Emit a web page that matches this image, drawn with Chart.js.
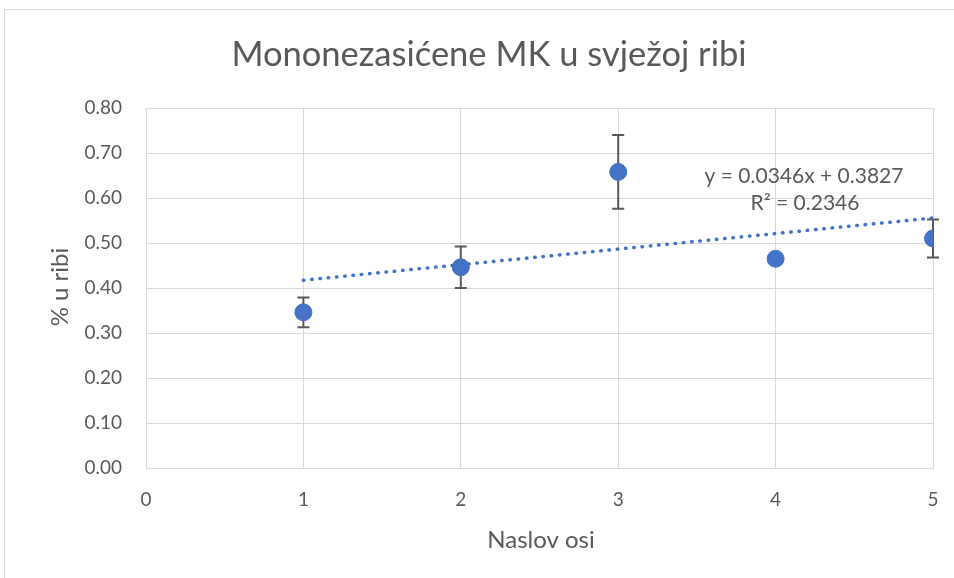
<!DOCTYPE html>
<html>
<head>
<meta charset="utf-8">
<title>Mononezasićene MK u svježoj ribi</title>
<script src="https://cdn.jsdelivr.net/npm/chart.js@4.4.1/dist/chart.umd.min.js"></script>
<style>
    html, body { margin: 0; padding: 0; background: #ffffff; }
    #wrap { width: 954px; height: 578px; position: relative; }
</style>
</head>
<body>
<div id="wrap"><canvas id="mkChart" width="954" height="578"></canvas></div>
<script>
// Data
const xValues = [1, 2, 3, 4, 5];
const yValues = [0.346, 0.446, 0.658, 0.465, 0.510];
const yErrors = [0.033, 0.046, 0.082, 0, 0.042];

// Linear trendline as shown on the chart
const trendSlope = 0.0346;
const trendIntercept = 0.3827;
const trendRange = [1, 5];
const trendLabel = ['y = 0.0346x + 0.3827', 'R² = 0.2346'];

const titleText = 'Mononezasićene MK u svježoj ribi';
const xTitle = 'Naslov osi';
const yTitle = '% u ribi';

const textColor = '#595959';
const gridColor = '#d9d9d9';
const blue = '#4472C4';
const fontFamily = "Lato, 'Open Sans', 'Noto Sans', sans-serif";

const points = xValues.map((x, i) => ({ x: x, y: yValues[i] }));
const trendPoints = trendRange.map(x => ({ x: x, y: trendSlope * x + trendIntercept }));

// Error bars, frame, titles and trend label
const decorPlugin = {
    id: 'decor',
    beforeDraw(chart) {
        const ctx = chart.ctx;
        ctx.save();
        ctx.strokeStyle = gridColor;
        ctx.lineWidth = 1;
        ctx.strokeRect(4.5, 9.5, 1000, 1000);
        ctx.restore();
    },
    beforeDatasetsDraw(chart) {
        const ctx = chart.ctx;
        const xs = chart.scales.x;
        const ys = chart.scales.y;
        ctx.save();
        ctx.strokeStyle = '#595959';
        ctx.lineWidth = 2;
        xValues.forEach((x, i) => {
            if (!yErrors[i]) return;
            const px = xs.getPixelForValue(x);
            const top = ys.getPixelForValue(yValues[i] + yErrors[i]);
            const bot = ys.getPixelForValue(yValues[i] - yErrors[i]);
            ctx.beginPath();
            ctx.moveTo(px, top);
            ctx.lineTo(px, bot);
            ctx.moveTo(px - 6, top);
            ctx.lineTo(px + 6, top);
            ctx.moveTo(px - 6, bot);
            ctx.lineTo(px + 6, bot);
            ctx.stroke();
        });
        ctx.restore();
    },
    afterDraw(chart) {
        const ctx = chart.ctx;
        ctx.save();
        ctx.fillStyle = textColor;
        ctx.textAlign = 'center';
        ctx.textBaseline = 'middle';

        ctx.font = `34.5px ${fontFamily}`;
        ctx.fillText(titleText, 489, 55);

        ctx.font = `21px ${fontFamily}`;
        ctx.fillText(trendLabel[0], 804, 176);
        ctx.fillText(trendLabel[1], 805, 203);

        ctx.font = `24px ${fontFamily}`;
        ctx.fillText(xTitle, 541, 540);
        ctx.translate(60, 287);
        ctx.rotate(-Math.PI / 2);
        ctx.fillText(yTitle, 0, 0);
        ctx.restore();
    }
};

const ctx = document.getElementById('mkChart').getContext('2d');
new Chart(ctx, {
    type: 'scatter',
    data: {
        datasets: [
            {
                label: 'MK',
                data: points,
                backgroundColor: blue,
                borderColor: blue,
                pointRadius: 8.5,
                pointHoverRadius: 8.5,
                order: 0
            },
            {
                label: 'Trend',
                type: 'line',
                data: trendPoints,
                borderColor: blue,
                borderWidth: 3.5,
                borderDash: [0.5, 7.8],
                borderCapStyle: 'round',
                pointRadius: 0,
                fill: false,
                order: 1
            }
        ]
    },
    options: {
        responsive: false,
        animation: false,
        layout: { padding: { top: 108, right: 21, left: 0, bottom: 0 } },
        plugins: {
            legend: { display: false },
            tooltip: { enabled: false },
            title: { display: false }
        },
        scales: {
            x: {
                type: 'linear',
                min: 0,
                max: 5,
                ticks: {
                    stepSize: 1,
                    color: textColor,
                    padding: 20,
                    font: { family: fontFamily, size: 19 }
                },
                grid: { color: gridColor, drawTicks: false },
                border: { color: gridColor },
                afterFit(scale) {
                    scale.height = 110;
                    scale.paddingLeft = 0;
                    scale.paddingRight = 0;
                }
            },
            y: {
                min: 0,
                max: 0.8,
                ticks: {
                    stepSize: 0.1,
                    color: textColor,
                    padding: 24,
                    font: { family: fontFamily, size: 19 },
                    callback: v => v.toFixed(2)
                },
                grid: { color: gridColor, drawTicks: false },
                border: { color: gridColor },
                afterFit(scale) { scale.width = 146; }
            }
        }
    },
    plugins: [decorPlugin]
});
</script>
</body>
</html>
